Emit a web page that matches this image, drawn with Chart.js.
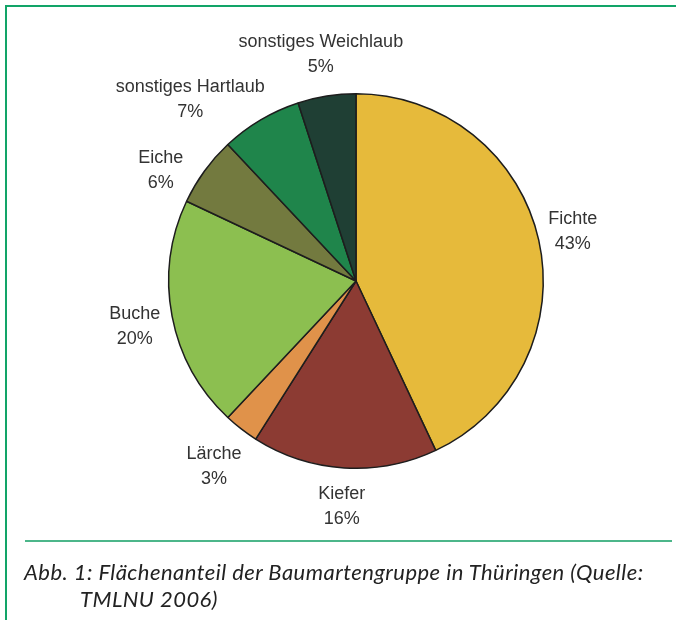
<!DOCTYPE html>
<html>
<head>
<meta charset="utf-8">
<script src="https://cdn.jsdelivr.net/npm/chart.js@4"></script>
<style>
    html, body { margin: 0; padding: 0; background: #fff; }
    #page { position: relative; width: 676px; height: 620px; overflow: hidden; }
    #frameTop { position: absolute; left: 5px; top: 5px; width: 671px; height: 2px; background: #12a468; }
    #frameLeft { position: absolute; left: 5px; top: 5px; width: 2px; height: 615px; background: #12a468; }
    #rule { position: absolute; left: 25px; top: 540px; width: 647px; height: 2px; background: #4cb68a; }
    #chartBox { position: absolute; left: 0; top: 0; width: 676px; height: 560px; }
    #caption {
        position: absolute; left: 24px; top: 558px; width: 650px;
        font-family: Lato, "Open Sans", sans-serif; font-style: italic;
        font-size: 22px; line-height: 27px; color: #222;
        letter-spacing: 0.45px; white-space: nowrap;
    }
    #caption .indent { padding-left: 56px; }
</style>
</head>
<body>
<div id="page">
    <div id="frameTop"></div>
    <div id="frameLeft"></div>
    <div id="chartBox"><canvas id="baumarten"></canvas></div>
    <div id="rule"></div>
    <div id="caption">Abb. 1: Flächenanteil der Baumartengruppe in Thüringen (Quelle:<br><span class="indent">TMLNU 2006)</span></div>
</div>
<script>
// Baumartengruppen, clockwise from 12 o'clock
const labels = [
    "Fichte",
    "Kiefer",
    "Lärche",
    "Buche",
    "Eiche",
    "sonstiges Hartlaub",
    "sonstiges Weichlaub",
];
const shares = [43, 16, 3, 20, 6, 7, 5];
const colours = [
    "#e6ba3b",
    "#8c3b33",
    "#e0924a",
    "#8cbf50",
    "#737a3f",
    "#1f854b",
    "#1f3f34",
];

// small nudges so labels sit where the original placed them (px)
const labelNudge = {
    "Fichte": [-3, -1],
    "Lärche": [-4, 7],
    "Buche": [0, 3],
    "Eiche": [-13, 21],
    "sonstiges Hartlaub": [-51, 12],
    "sonstiges Weichlaub": [0, -4],
};

// draws "name / xx%" outside each slice
const outsideLabels = {
    id: "outsideLabels",
    afterDatasetsDraw(chart) {
        const ctx = chart.ctx;
        const meta = chart.getDatasetMeta(0);
        ctx.save();
        ctx.font = "18px Arial, sans-serif";
        ctx.fillStyle = "#333";
        ctx.textAlign = "center";
        ctx.textBaseline = "middle";
        meta.data.forEach((arc, i) => {
            const { x, y, startAngle, endAngle, outerRadius } = arc.getProps(
                ["x", "y", "startAngle", "endAngle", "outerRadius"],
                true,
            );
            const name = chart.data.labels[i];
            const nudge = labelNudge[name] || [0, 0];
            const mid = (startAngle + endAngle) / 2;
            const r = outerRadius + 38;
            const lx = x + Math.cos(mid) * r + nudge[0];
            const ly = y + Math.sin(mid) * r + nudge[1];
            ctx.fillText(name, lx, ly - 12);
            ctx.fillText(shares[i] + "%", lx, ly + 13);
        });
        ctx.restore();
    },
};

new Chart(document.getElementById("baumarten"), {
    type: "pie",
    data: {
        labels: labels,
        datasets: [
            {
                data: shares,
                backgroundColor: colours,
                borderColor: "#1d1d1d",
                borderWidth: 1.5,
            },
        ],
    },
    options: {
        responsive: true,
        maintainAspectRatio: false,
        animation: false,
        layout: {
            padding: { left: 168, right: 132, top: 93, bottom: 91 },
        },
        plugins: {
            legend: { display: false },
            tooltip: { enabled: false },
        },
    },
    plugins: [outsideLabels],
});
</script>
</body>
</html>
